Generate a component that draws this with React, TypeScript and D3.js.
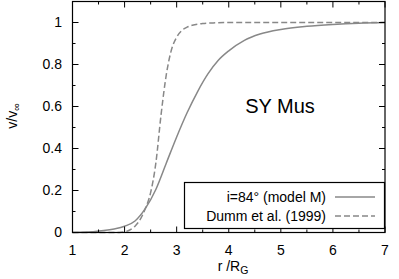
import React from "react";
import * as d3 from "d3";

// radius in units of R_G, velocity in units of v_inf
const modelR = [1.0, 1.2, 1.4, 1.6, 1.8, 2.0, 2.2, 2.4, 2.6, 2.8, 3.0, 3.2, 3.4, 3.6, 3.8, 4.0, 4.3, 4.6, 5.0, 5.5, 6.0, 6.5, 7.0];
const modelV = [0, 0.001, 0.004, 0.009, 0.017, 0.03, 0.055, 0.115, 0.205, 0.33, 0.455, 0.57, 0.67, 0.755, 0.82, 0.865, 0.915, 0.945, 0.967, 0.982, 0.991, 0.997, 1.0];

const dummR = [1.0, 1.5, 1.9, 2.0, 2.1, 2.2, 2.3, 2.4, 2.5, 2.6, 2.7, 2.8, 2.9, 3.0, 3.1, 3.2, 3.3, 3.5, 3.7, 4.0, 5.0, 6.0, 7.0];
const dummV = [0, 0, 0, 0.003, 0.012, 0.03, 0.062, 0.115, 0.19, 0.33, 0.56, 0.75, 0.87, 0.93, 0.962, 0.978, 0.987, 0.995, 0.998, 1, 1, 1, 1];

const xTicks = [1, 2, 3, 4, 5, 6, 7];
const xMinor = [1.5, 2.5, 3.5, 4.5, 5.5, 6.5];
const yTicks = [0, 0.2, 0.4, 0.6, 0.8, 1];
const yMinor = [0.1, 0.3, 0.5, 0.7, 0.9];

const seriesLabels = ["i=84° (model M)", "Dumm et al. (1999)"];

const W = 399;
const H = 279;
const font = "'Liberation Sans', Arial, Helvetica, sans-serif";
const gray = "#888888";
const fs = 14;

export default function App() {
  const left = 72.5, right = 385, top = 1.5, bottom = 232.5;
  const x = d3.scaleLinear().domain([1, 7]).range([left, right]);
  const y = d3.scaleLinear().domain([0, 1.1]).range([bottom, top]);

  const line = d3
    .line<[number, number]>()
    .x((d) => x(d[0]))
    .y((d) => y(d[1]))
    .curve(d3.curveMonotoneX);

  const modelPts = modelR.map((r, i) => [r, modelV[i]] as [number, number]);
  const dummPts = dummR.map((r, i) => [r, dummV[i]] as [number, number]);

  // legend box
  const lg = { x0: 184.5, y0: 182.5, x1: 384.5, y1: 228.5 };
  const rows = [202, 221];

  return (
    <svg
      width={W}
      height={H}
      style={{ position: "fixed", left: 0, top: 0, background: "white" }}
      fontFamily={font}
    >
      <rect width={W} height={H} fill="white" />

      {/* curves */}
      <path d={line(modelPts) || ""} fill="none" stroke={gray} strokeWidth={1.5} />
      <path d={line(dummPts) || ""} fill="none" stroke={gray} strokeWidth={1.5} strokeDasharray="6,3" />

      {/* ticks, mirrored on all sides */}
      <g stroke="black" strokeWidth={1}>
        {xTicks.map((t) => (
          <g key={"xt" + t}>
            <line x1={x(t)} x2={x(t)} y1={bottom} y2={bottom - 6} />
            <line x1={x(t)} x2={x(t)} y1={top} y2={top + 6} />
          </g>
        ))}
        {xMinor.map((t) => (
          <g key={"xm" + t}>
            <line x1={x(t)} x2={x(t)} y1={bottom} y2={bottom - 3} />
            <line x1={x(t)} x2={x(t)} y1={top} y2={top + 3} />
          </g>
        ))}
        {yTicks.map((t) => (
          <g key={"yt" + t}>
            <line x1={left} x2={left + 6} y1={y(t)} y2={y(t)} />
            <line x1={right} x2={right - 6} y1={y(t)} y2={y(t)} />
          </g>
        ))}
        {yMinor.map((t) => (
          <g key={"ym" + t}>
            <line x1={left} x2={left + 3} y1={y(t)} y2={y(t)} />
            <line x1={right} x2={right - 3} y1={y(t)} y2={y(t)} />
          </g>
        ))}
      </g>

      {/* legend */}
      <rect
        x={lg.x0}
        y={lg.y0}
        width={lg.x1 - lg.x0}
        height={lg.y1 - lg.y0}
        fill="white"
        stroke="black"
        strokeWidth={1.2}
      />
      {seriesLabels.map((s, i) => (
        <g key={s}>
          <text x={326} y={rows[i]} textAnchor="end" fontSize={fs} fill="black">
            {s}
          </text>
          <line
            x1={335}
            x2={375}
            y1={rows[i] - 5}
            y2={rows[i] - 5}
            stroke={gray}
            strokeWidth={1.5}
            strokeDasharray={i === 1 ? "6,3" : undefined}
          />
        </g>
      ))}

      {/* frame */}
      <rect
        x={left}
        y={top}
        width={right - left}
        height={bottom - top}
        fill="none"
        stroke="black"
        strokeWidth={1.2}
      />

      {/* tick labels */}
      {xTicks.map((t) => (
        <text key={"xl" + t} x={x(t)} y={255} textAnchor="middle" fontSize={fs} fill="black">
          {t}
        </text>
      ))}
      {yTicks.map((t) => (
        <text key={"yl" + t} x={62} y={y(t)} dy="0.35em" textAnchor="end" fontSize={fs} fill="black">
          {t}
        </text>
      ))}

      {/* axis titles */}
      <text x={233} y={271} textAnchor="middle" fontSize={fs} fill="black">
        r /R<tspan fontSize={10.5} dy={3}>G</tspan>
      </text>
      <text
        transform="translate(17,116) rotate(-90)"
        textAnchor="middle"
        fontSize={fs}
        fill="black"
      >
        v/v<tspan fontSize={10.5} dy={3}>∞</tspan>
      </text>

      <text x={280} y={113} textAnchor="middle" fontSize={20} fill="black">
        SY Mus
      </text>
    </svg>
  );
}
